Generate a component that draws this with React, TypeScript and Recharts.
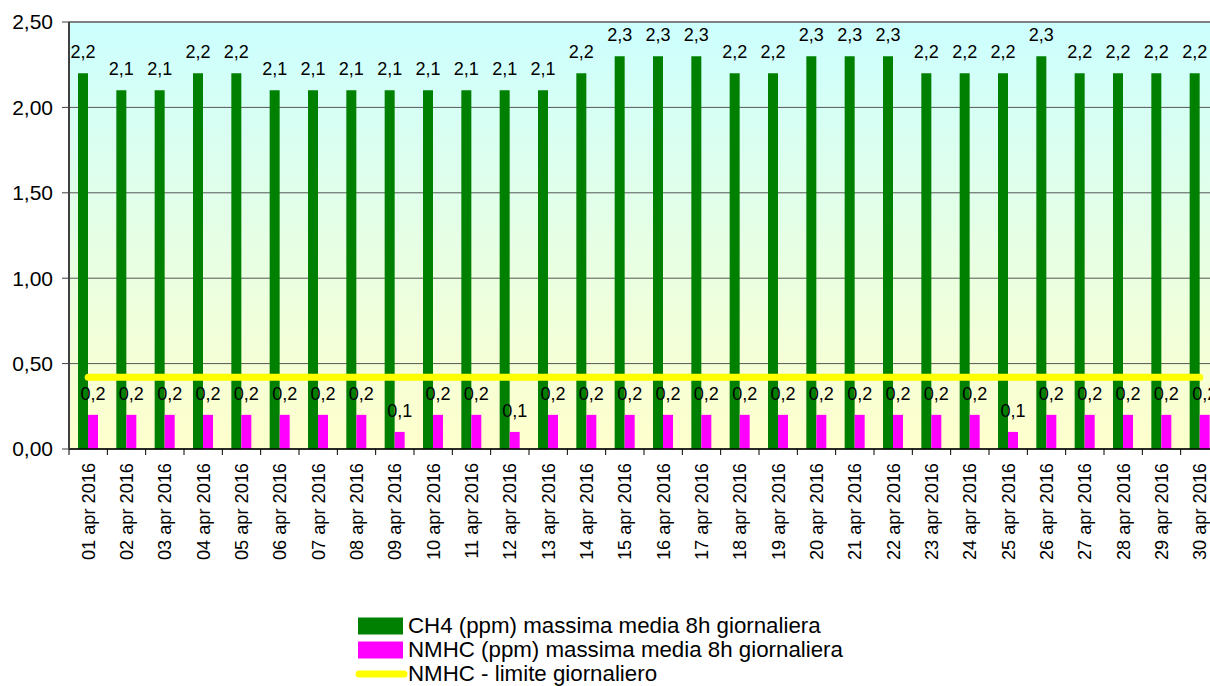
import {
  Bar,
  CartesianGrid,
  ComposedChart,
  LabelList,
  Legend,
  Line,
  ReferenceLine,
  XAxis,
  YAxis,
} from 'recharts';

const DAYS = [
  '01 apr 2016', '02 apr 2016', '03 apr 2016', '04 apr 2016', '05 apr 2016',
  '06 apr 2016', '07 apr 2016', '08 apr 2016', '09 apr 2016', '10 apr 2016',
  '11 apr 2016', '12 apr 2016', '13 apr 2016', '14 apr 2016', '15 apr 2016',
  '16 apr 2016', '17 apr 2016', '18 apr 2016', '19 apr 2016', '20 apr 2016',
  '21 apr 2016', '22 apr 2016', '23 apr 2016', '24 apr 2016', '25 apr 2016',
  '26 apr 2016', '27 apr 2016', '28 apr 2016', '29 apr 2016', '30 apr 2016',
];

const CH4 = [
  2.2, 2.1, 2.1, 2.2, 2.2, 2.1, 2.1, 2.1, 2.1, 2.1,
  2.1, 2.1, 2.1, 2.2, 2.3, 2.3, 2.3, 2.2, 2.2, 2.3,
  2.3, 2.3, 2.2, 2.2, 2.2, 2.3, 2.2, 2.2, 2.2, 2.2,
];

const NMHC = [
  0.2, 0.2, 0.2, 0.2, 0.2, 0.2, 0.2, 0.2, 0.1, 0.2,
  0.2, 0.1, 0.2, 0.2, 0.2, 0.2, 0.2, 0.2, 0.2, 0.2,
  0.2, 0.2, 0.2, 0.2, 0.1, 0.2, 0.2, 0.2, 0.2, 0.2,
];

const NMHC_LIMIT = 0.42;
const Y_TICKS = [0, 0.5, 1, 1.5, 2, 2.5];

const data = DAYS.map((day, i) => ({
  day,
  ch4: CH4[i],
  nmhc: NMHC[i],
  limit: NMHC_LIMIT,
}));

const comma = (v: number, digits: number) => Number(v).toFixed(digits).replace('.', ',');

// plot is 1150px wide for 30 days
const BAND = 1150 / DAYS.length;

function DayTick({ x, y, payload }: any) {
  const edge = x - BAND / 2;
  return (
    <g>
      <line x1={edge} x2={edge} y1={y - 14} y2={y - 8} stroke="#000" strokeWidth={1} />
      <text
        x={x}
        y={y}
        transform={`rotate(-90, ${x}, ${y})`}
        textAnchor="end"
        dy="0.35em"
        fontSize={18.2}
        fill="#000"
      >
        {payload.value}
      </text>
    </g>
  );
}

function LegendBox({ payload }: any) {
  return (
    <div style={{ fontSize: 22.3, color: '#000' }}>
      {(payload || []).map((entry: any) => (
        <div key={entry.value} style={{ display: 'flex', alignItems: 'center', height: 24 }}>
          <svg width={53} height={24} style={{ display: 'block' }}>
            {entry.type === 'line' ? (
              <line x1={4} x2={49} y1={12} y2={12} stroke={entry.color} strokeWidth={7} strokeLinecap="round" />
            ) : (
              <rect x={3} y={3.5} width={45} height={17} fill={entry.color} />
            )}
          </svg>
          <span style={{ whiteSpace: 'nowrap', lineHeight: '24px' }}>{entry.value}</span>
        </div>
      ))}
    </div>
  );
}

export default function App() {
  return (
    <div
      style={{
        position: 'absolute',
        left: 0,
        top: 0,
        width: 1210,
        height: 686,
        overflow: 'hidden',
        background: '#fff',
        fontFamily: '"Liberation Sans", Arial, sans-serif',
      }}
    >
      <ComposedChart
        width={1232}
        height={700}
        data={data}
        margin={{ top: 22, right: 13, bottom: 131, left: 0 }}
        barGap={0}
        barSize={10}
      >
        <defs>
          <linearGradient id="plotBg" x1="0" y1="0" x2="0" y2="1">
            <stop offset="0" stopColor="#CCFFFF" />
            <stop offset="1" stopColor="#FFFFCC" />
          </linearGradient>
        </defs>
        <CartesianGrid vertical={false} stroke="#555" fill="url(#plotBg)" />
        <XAxis
          dataKey="day"
          interval={0}
          height={120}
          tickLine={false}
          tickSize={6}
          tickMargin={8}
          axisLine={{ stroke: '#000', strokeWidth: 1.5 }}
          tick={<DayTick />}
        />
        <YAxis
          width={69}
          domain={[0, 2.5]}
          ticks={Y_TICKS}
          tickFormatter={(v: number) => comma(v, 2)}
          tickSize={7}
          tickMargin={9}
          tick={{ fontSize: 21, fill: '#000' }}
          tickLine={{ stroke: '#404040' }}
          axisLine={{ stroke: '#404040', strokeWidth: 2 }}
        />
        <ReferenceLine y={2.5} stroke="#808080" strokeWidth={2} />
        <Legend
          layout="horizontal"
          verticalAlign="middle"
          align="center"
          wrapperStyle={{ left: 355, top: 614, width: 700 }}
          content={<LegendBox />}
        />
        <Bar dataKey="ch4" name="CH4 (ppm) massima media 8h giornaliera" fill="#008000" isAnimationActive={false}>
          <LabelList
            dataKey="ch4"
            position="top"
            offset={15}
            formatter={(v: number) => comma(v, 1)}
            fontSize={18}
            fill="#000"
          />
        </Bar>
        <Bar dataKey="nmhc" name="NMHC (ppm) massima media 8h giornaliera" fill="#FF00FF" isAnimationActive={false}>
          <LabelList
            dataKey="nmhc"
            position="top"
            offset={15}
            formatter={(v: number) => comma(v, 1)}
            fontSize={18}
            fill="#000"
          />
        </Bar>
        <Line
          dataKey="limit"
          name="NMHC - limite giornaliero"
          type="linear"
          stroke="#FFFF00"
          strokeWidth={7}
          strokeLinecap="round"
          dot={false}
          activeDot={false}
          legendType="line"
          isAnimationActive={false}
        />
      </ComposedChart>
    </div>
  );
}
